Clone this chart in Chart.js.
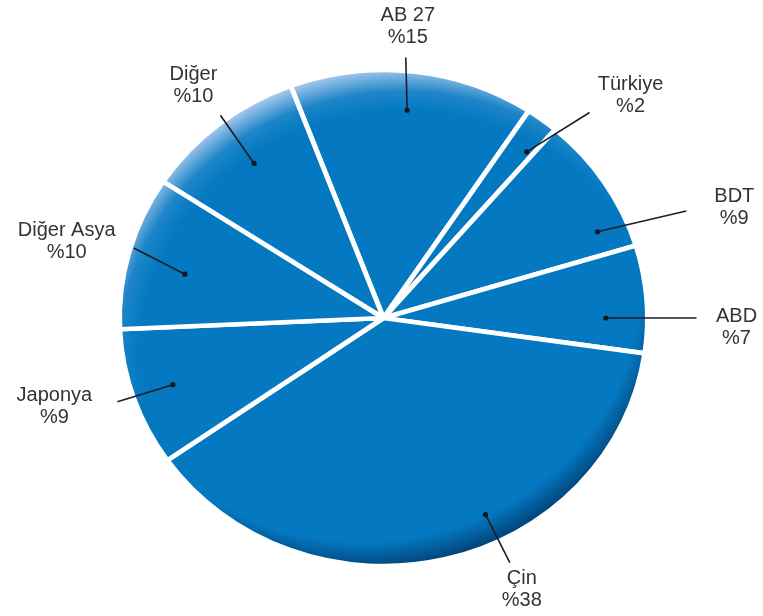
<!DOCTYPE html>
<html>
<head>
<meta charset="utf-8">
<script src="https://cdn.jsdelivr.net/npm/chart.js@4/dist/chart.umd.min.js"></script>
<style>
  html, body { margin: 0; padding: 0; background: #fff; }
  #wrap { width: 763px; height: 616px; }
</style>
</head>
<body>
<div id="wrap"><canvas id="myChart" width="763" height="616"></canvas></div>
<script>
// slices, clockwise from the top
const regions = ['AB 27', 'Türkiye', 'BDT', 'ABD', 'Çin', 'Japonya', 'Diğer Asya', 'Diğer'];
const shares = [15, 2, 9, 7, 38, 9, 10, 10];
const shareLabels = shares.map(v => '%' + v);

// callout placement: angle tweaks (deg) and radius fractions, text offset from line end
const callouts = [
  { da0: -0.3, r0: 0.85, da1: -1.8, r1: 1.063, tx: 2,   ty: -31 },
  { da0: 2,    r0: 0.87, da1: 6.3,  r1: 1.149, tx: 41,  ty: -17 },
  { da0: 10,   r0: 0.89, da1: 12.6, r1: 1.237, tx: 48,  ty: -4 },
  { da0: 4.4,  r0: 0.85, da1: 4.4,  r1: 1.197, tx: 40,  ty: 9 },
  { da0: -12.6,r0: 0.89, da1: -12.5,r1: 1.106, tx: 12,  ty: 27 },
  { da0: 0.2,  r0: 0.85, da1: 0.3,  r1: 1.073, tx: -63, ty: 5 },
  { da0: -2.2, r0: 0.78, da1: 1.2,  r1: 0.997, tx: -67, ty: -7 },
  { da0: 0.4,  r0: 0.80, da1: 1.5,  r1: 1.034, tx: -27, ty: -30 }
];

const BLUE = '#0479c1';
const SQUASH = 0.94;   // pie is drawn slightly flattened
const BORDER = 5;

// shaded disc (light rim top-left, dark rim bottom-right) used as the fill pattern
let shadeCache = null;
function shade(chart) {
  const area = chart.chartArea;
  if (!area) return BLUE;
  const key = area.left + ',' + area.top + ',' + area.right;
  if (shadeCache && shadeCache.key === key) return shadeCache.pat;
  const cx = (area.left + area.right) / 2, cy = (area.top + area.bottom) / 2;
  const r = Math.min(area.width, area.height) / 2 - BORDER / 2;
  const off = document.createElement('canvas');
  off.width = chart.width; off.height = chart.height;
  const g = off.getContext('2d');
  g.fillStyle = BLUE;
  g.fillRect(0, 0, off.width, off.height);
  g.save();
  g.beginPath(); g.arc(cx, cy, r + 4, 0, Math.PI * 2); g.clip();

  const lx = cx + 20, ly = cy + 45, ld = Math.hypot(20, 45);
  const lg = g.createRadialGradient(lx, ly, r + ld - 45, lx, ly, r + ld);
  lg.addColorStop(0, 'rgba(175,205,238,0)');
  lg.addColorStop(0.45, 'rgba(175,205,238,0.15)');
  lg.addColorStop(1, 'rgba(175,205,238,0.95)');
  g.fillStyle = lg; g.fillRect(0, 0, off.width, off.height);

  const dx = cx - 20, dy = cy - 40, dd = Math.hypot(20, 40);
  const dg = g.createRadialGradient(dx, dy, r + dd - 28, dx, dy, r + dd);
  dg.addColorStop(0, 'rgba(0,55,105,0)');
  dg.addColorStop(1, 'rgba(0,55,105,0.8)');
  g.fillStyle = dg; g.fillRect(0, 0, off.width, off.height);
  g.restore();

  const pat = chart.ctx.createPattern(off, 'no-repeat');
  shadeCache = { key, pat };
  return pat;
}

function pieCenter(chart) {
  const a = chart.chartArea;
  return { cx: (a.left + a.right) / 2, cy: (a.top + a.bottom) / 2 };
}

const squashPlugin = {
  id: 'squash',
  beforeDatasetsDraw(chart) {
    const { cx, cy } = pieCenter(chart);
    const ctx = chart.ctx;
    ctx.save();
    ctx.translate(cx, cy);
    ctx.scale(1, SQUASH);
    ctx.translate(-cx, -cy);
  },
  afterDatasetsDraw(chart) {
    chart.ctx.restore();
  }
};

const calloutPlugin = {
  id: 'callouts',
  afterDraw(chart) {
    const ctx = chart.ctx;
    const meta = chart.getDatasetMeta(0);
    ctx.save();
    ctx.font = '20px "Liberation Sans", Arial, sans-serif';
    ctx.textAlign = 'center';
    ctx.textBaseline = 'middle';
    meta.data.forEach((arc, i) => {
      const p = arc.getProps(['x', 'y', 'startAngle', 'endAngle', 'outerRadius']);
      const R = p.outerRadius - BORDER / 2;
      const mid = (p.startAngle + p.endAngle) / 2;
      const c = callouts[i];
      const at = (da, k) => {
        const a = mid + da * Math.PI / 180;
        return { x: p.x + Math.cos(a) * k * R, y: p.y + Math.sin(a) * k * R * SQUASH };
      };
      const d = at(c.da0, c.r0);
      const o = at(c.da1, c.r1);
      ctx.strokeStyle = '#1c1c24';
      ctx.lineWidth = 1.6;
      ctx.beginPath();
      ctx.moveTo(d.x, d.y);
      ctx.lineTo(o.x, o.y);
      ctx.stroke();
      ctx.fillStyle = '#111822';
      ctx.beginPath();
      ctx.arc(d.x, d.y, 2.6, 0, Math.PI * 2);
      ctx.fill();

      ctx.fillStyle = '#333';
      const tx = o.x + c.tx, ty = o.y + c.ty;
      ctx.fillText(regions[i], tx, ty - 11);
      ctx.fillText(shareLabels[i], tx, ty + 11);
    });
    ctx.restore();
  }
};

const ctx = document.getElementById('myChart').getContext('2d');
const myChart = new Chart(ctx, {
  type: 'pie',
  data: {
    labels: regions,
    datasets: [{
      data: shares,
      backgroundColor: c => shade(c.chart),
      borderColor: '#ffffff',
      borderWidth: BORDER,
      borderJoinStyle: 'round',
      radius: 264,
      clip: false
    }]
  },
  options: {
    responsive: false,
    animation: false,
    devicePixelRatio: 1,
    rotation: -20.6,
    layout: { padding: { top: 54, bottom: 34, left: 119.5, right: 115.5 } },
    plugins: {
      legend: { display: false },
      tooltip: { enabled: false }
    }
  },
  plugins: [squashPlugin, calloutPlugin]
});
</script>
</body>
</html>
